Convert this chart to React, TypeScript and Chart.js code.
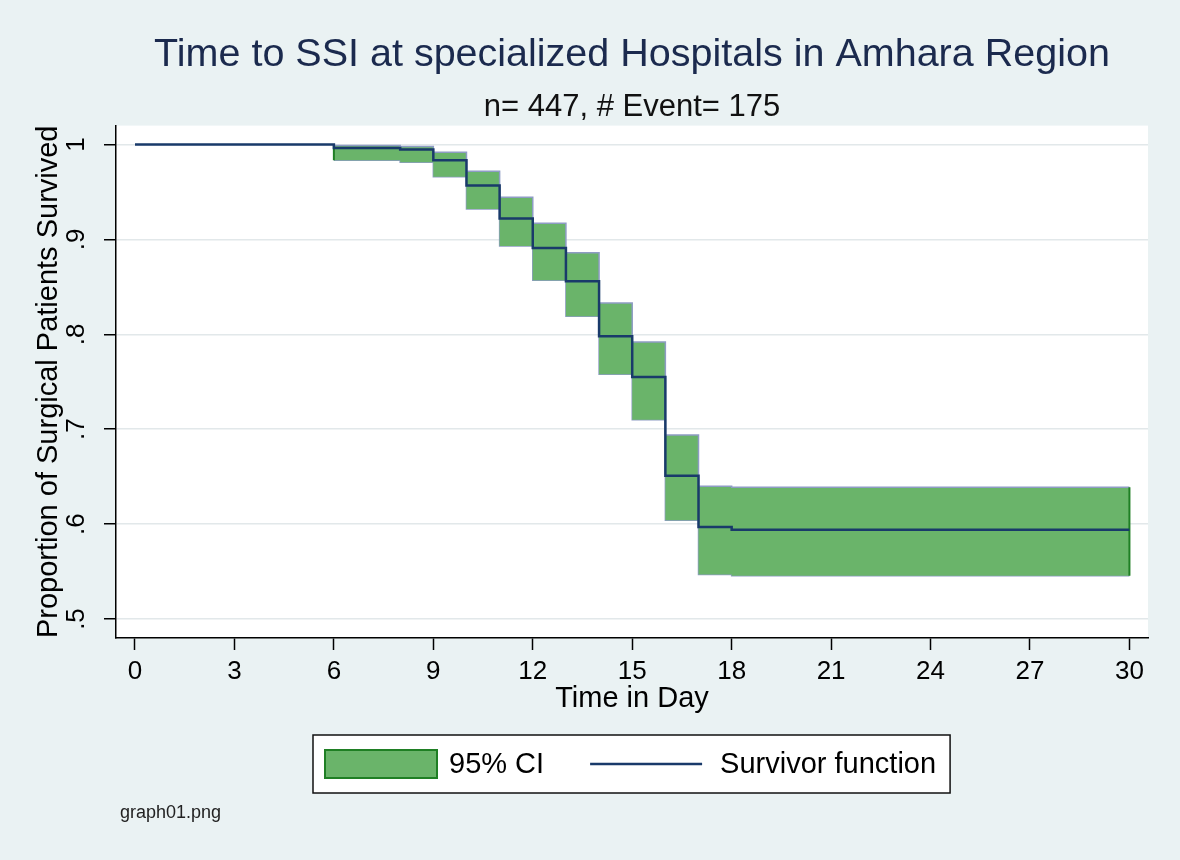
import React, { useEffect, useRef } from 'react';
import { Chart, registerables } from 'chart.js';

Chart.register(...registerables);

const FONT = "'Liberation Sans', Arial, Helvetica, sans-serif";

const titleText = 'Time to SSI at specialized Hospitals in Amhara Region';
const subtitleText = 'n= 447, # Event= 175';
const xAxisTitle = 'Time in Day';
const yAxisTitle = 'Proportion of Surgical Patients Survived';
const noteText = 'graph01.png';

// Kaplan-Meier survivor function (value holds until next day listed)
const survDays = [0, 6, 8, 9, 10, 11, 12, 13, 14, 15, 16, 17, 18, 30];
const survival = [1, 0.9965, 0.9947, 0.9835, 0.957, 0.922, 0.891, 0.856, 0.798, 0.755, 0.651, 0.597, 0.594, 0.594];

// 95% confidence band
const ciDays = [6, 8, 9, 10, 11, 12, 13, 14, 15, 16, 17, 18, 30];
const ciUpper = [0.999, 0.998, 0.992, 0.972, 0.9445, 0.917, 0.886, 0.833, 0.792, 0.694, 0.64, 0.639, 0.639];
const ciLower = [0.9835, 0.9814, 0.966, 0.932, 0.893, 0.857, 0.819, 0.758, 0.71, 0.604, 0.547, 0.5456, 0.5456];

const xTicks = [0, 3, 6, 9, 12, 15, 18, 21, 24, 27, 30];
const yTicks = [0.5, 0.6, 0.7, 0.8, 0.9, 1];
const yTickLabels = ['.5', '.6', '.7', '.8', '.9', '1'];

const legendLabels = ['95% CI', 'Survivor function'];

const BG = '#EAF2F3';
const CI_FILL = '#6AB46A';
const CI_EDGE = '#8E9CC4';
const CI_END = '#1F7F24';
const SURV = '#193A6A';

const bgPlugin = {
  id: 'stataBg',
  beforeDraw(chart: any) {
    const { ctx, chartArea: ca } = chart;
    ctx.save();
    ctx.fillStyle = BG;
    ctx.fillRect(0, 0, chart.width, chart.height);
    ctx.fillStyle = '#ffffff';
    ctx.fillRect(ca.left, ca.top, ca.right - ca.left, ca.bottom - ca.top);
    ctx.restore();
  },
};

const legendPlugin = {
  id: 'stataLegend',
  afterDraw(chart: any) {
    const { ctx, chartArea: ca } = chart;
    ctx.save();
    ctx.font = `29px ${FONT}`;
    const w1 = ctx.measureText(legendLabels[0]).width;
    const w2 = ctx.measureText(legendLabels[1]).width;
    const padL = 12, sw = 112, gap1 = 12, itemGap = 46, gap2 = 18, padR = 14;
    const total = padL + sw + gap1 + w1 + itemGap + sw + gap2 + w2 + padR;
    const cx = (ca.left + ca.right) / 2;
    const left = Math.round(cx - total / 2);
    const top = 735;
    const h = 58;
    const cy = top + h / 2;
    ctx.fillStyle = '#ffffff';
    ctx.fillRect(left, top, total, h);
    ctx.strokeStyle = '#111';
    ctx.lineWidth = 1.5;
    ctx.strokeRect(left, top, total, h);
    // CI swatch
    let x = left + padL;
    ctx.fillStyle = CI_FILL;
    ctx.fillRect(x, cy - 14, sw, 28);
    ctx.strokeStyle = CI_END;
    ctx.lineWidth = 2;
    ctx.strokeRect(x, cy - 14, sw, 28);
    x += sw + gap1;
    ctx.fillStyle = '#000';
    ctx.textBaseline = 'middle';
    ctx.textAlign = 'left';
    ctx.fillText(legendLabels[0], x, cy + 1);
    x += w1 + itemGap;
    ctx.strokeStyle = SURV;
    ctx.lineWidth = 2.5;
    ctx.beginPath();
    ctx.moveTo(x, cy);
    ctx.lineTo(x + sw, cy);
    ctx.stroke();
    x += sw + gap2;
    ctx.fillText(legendLabels[1], x, cy + 1);
    // note
    ctx.font = `18px ${FONT}`;
    ctx.fillStyle = '#222';
    ctx.fillText(noteText, 120, 813);
    ctx.restore();
  },
};

export default function App() {
  const ref = useRef<HTMLCanvasElement | null>(null);

  useEffect(() => {
    if (!ref.current) return;
    Chart.defaults.font.family = FONT;
    const survData = survDays.map((d, i) => ({ x: d, y: survival[i] }));
    const upData = ciDays.map((d, i) => ({ x: d, y: ciUpper[i] }));
    const loData = ciDays.map((d, i) => ({ x: d, y: ciLower[i] }));
    const first = 0;
    const last = ciDays.length - 1;
    const chart = new Chart(ref.current, {
      type: 'line',
      data: {
        datasets: [
          {
            label: legendLabels[1],
            data: survData,
            borderColor: SURV,
            borderWidth: 2.5,
            pointRadius: 0,
            stepped: 'before',
            fill: false,
          },
          {
            label: 'ciStartEdge',
            data: [
              { x: ciDays[first], y: ciLower[first] },
              { x: ciDays[first], y: ciUpper[first] },
            ],
            borderColor: CI_END,
            borderWidth: 2,
            pointRadius: 0,
            fill: false,
          },
          {
            label: 'ciEndEdge',
            data: [
              { x: ciDays[last], y: ciLower[last] },
              { x: ciDays[last], y: ciUpper[last] },
            ],
            borderColor: CI_END,
            borderWidth: 2,
            pointRadius: 0,
            fill: false,
          },
          {
            label: legendLabels[0],
            data: upData,
            borderColor: CI_EDGE,
            borderWidth: 1.5,
            pointRadius: 0,
            stepped: 'before',
            backgroundColor: CI_FILL,
            fill: '+1',
          },
          {
            label: '95% CI lower',
            data: loData,
            borderColor: CI_EDGE,
            borderWidth: 1.5,
            pointRadius: 0,
            stepped: 'before',
            fill: false,
          },
        ],
      },
      options: {
        responsive: false,
        animation: false,
        events: [],
        layout: { padding: { left: 0, right: 32, top: 0, bottom: 142 } },
        plugins: {
          legend: { display: false },
          tooltip: { enabled: false },
          title: {
            display: true,
            text: titleText,
            color: '#1B2A4E',
            fullSize: false,
            font: { size: 39.5, weight: 'normal', family: FONT },
            padding: { top: 31, bottom: 2 },
          },
          subtitle: {
            display: true,
            text: subtitleText,
            color: '#111111',
            fullSize: false,
            font: { size: 31, weight: 'normal', family: FONT },
            padding: { top: 8, bottom: 0 },
          },
        },
        scales: {
          x: {
            type: 'linear',
            min: -0.573,
            max: 30.56,
            afterBuildTicks: (scale: any) => {
              scale.ticks = xTicks.map((v) => ({ value: v }));
            },
            afterFit: (scale: any) => {
              scale.height = 80;
            },
            ticks: {
              autoSkip: false,
              maxRotation: 0,
              minRotation: 0,
              padding: 6,
              color: '#000',
              font: { size: 26, family: FONT },
              callback: (_v: any, i: number) => String(xTicks[i]),
            },
            grid: {
              display: true,
              drawOnChartArea: false,
              drawTicks: true,
              tickLength: 12,
              tickColor: '#000',
              tickWidth: 1.5,
            },
            border: { display: true, color: '#000', width: 1.5 },
            title: {
              display: true,
              text: xAxisTitle,
              color: '#000',
              font: { size: 29, family: FONT },
              padding: { top: 0, bottom: 2 },
            },
          },
          y: {
            type: 'linear',
            min: 0.48,
            max: 1.02,
            afterBuildTicks: (scale: any) => {
              scale.ticks = yTicks.map((v) => ({ value: v }));
            },
            afterFit: (scale: any) => {
              scale.width = 116;
            },
            ticks: {
              minRotation: 90,
              maxRotation: 90,
              crossAlign: 'center',
              padding: 16,
              color: '#000',
              font: { size: 26, family: FONT },
              callback: (_v: any, i: number) => yTickLabels[i],
            },
            grid: {
              color: '#E2E8EA',
              lineWidth: 1.5,
              tickLength: 12,
              tickColor: '#000',
              tickWidth: 1.5,
            },
            border: { display: true, color: '#000', width: 1.5 },
            title: {
              display: true,
              text: yAxisTitle,
              color: '#000',
              font: { size: 29, family: FONT },
              padding: { top: 32, bottom: 0 },
            },
          },
        },
      },
      plugins: [bgPlugin, legendPlugin],
    } as any);
    return () => chart.destroy();
  }, []);

  return (
    <div style={{ position: 'absolute', left: 0, top: 0, width: 1180, height: 860 }}>
      <canvas ref={ref} width={1180} height={860} style={{ width: 1180, height: 860, display: 'block' }} />
    </div>
  );
}
